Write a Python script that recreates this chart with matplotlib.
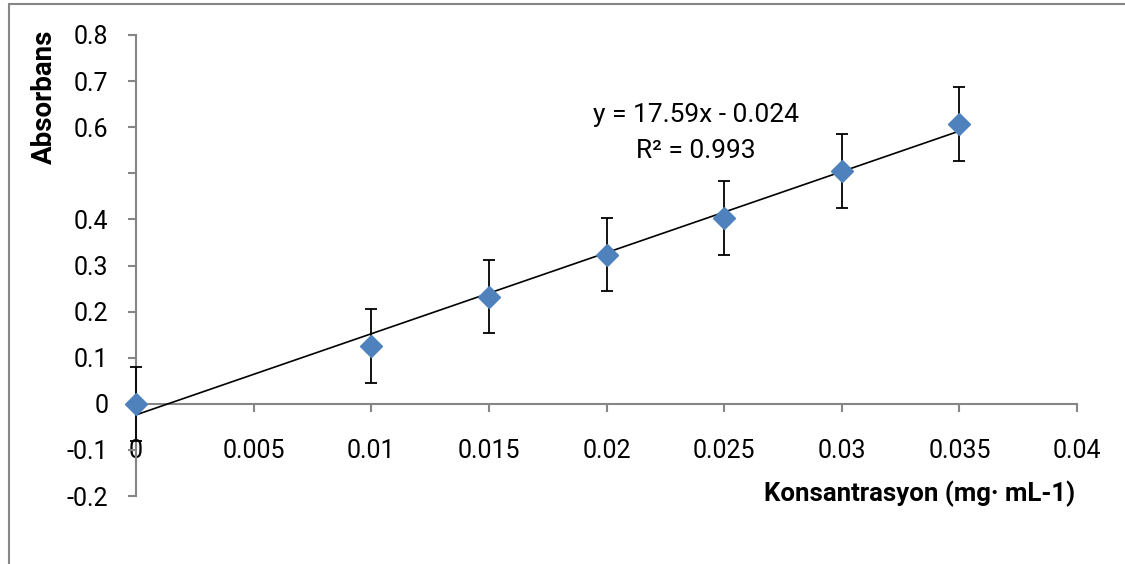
import matplotlib
matplotlib.use("Agg")
import matplotlib.pyplot as plt
from matplotlib.patches import Rectangle
import numpy as np

# Data
conc = [0.0, 0.01, 0.015, 0.02, 0.025, 0.03, 0.035]
absorb = [0.0, 0.126, 0.232, 0.323, 0.403, 0.505, 0.607]
err = [0.08, 0.08, 0.079, 0.079, 0.08, 0.08, 0.08]
slope = 17.59
intercept = -0.024
xticks = [0, 0.005, 0.01, 0.015, 0.02, 0.025, 0.03, 0.035, 0.04]
xticklabels = ["0", "0.005", "0.01", "0.015", "0.02", "0.025", "0.03", "0.035", "0.04"]
yticks = [-0.2, -0.1, 0, 0.1, 0.2, 0.3, 0.4, 0.5, 0.6, 0.7, 0.8]
yticklabels = ["-0.2", "-0.1", "0", "0.1", "0.2", "0.3", "0.4", "", "0.6", "0.7", "0.8"]

plt.rcParams['font.family'] = ['Roboto', 'DejaVu Sans']
W, H = 1125, 564
fig = plt.figure(figsize=(W / 100, H / 100), dpi=100)
ax = fig.add_axes([136 / W, (H - 496) / H, 941 / W, 461 / H])

gray = '#868686'
# Outer chart frame
fig.patches.append(Rectangle((9 / W, -0.2), 1.5, (H - 4) / H + 0.2, transform=fig.transFigure,
                             fill=False, edgecolor=gray, linewidth=1.5, zorder=0))

# trendline
xl = np.array([conc[0], conc[-1]])
ax.plot(xl, slope * xl + intercept, color='black', lw=1.2, zorder=3)

ax.errorbar(conc, absorb, yerr=err, fmt='none', ecolor='black', elinewidth=1.3,
            capsize=4.5, capthick=1.3, zorder=4, clip_on=False)
ax.plot(conc, absorb, linestyle='none', marker='D', markersize=11.5, color='#4F81BD',
        markeredgecolor='#4F81BD', zorder=5, clip_on=False)

ax.set_xlim(0, 0.04)
ax.set_ylim(-0.2, 0.8)
for s in ['top', 'right']:
    ax.spines[s].set_visible(False)
ax.spines['bottom'].set_position(('data', 0))
ax.spines['left'].set_color(gray)
ax.spines['bottom'].set_color(gray)
ax.spines['left'].set_linewidth(1.5)
ax.spines['bottom'].set_linewidth(1.5)

ax.set_xticks(xticks)
ax.set_xticklabels(xticklabels)
ax.set_yticks(yticks)
ax.set_yticklabels(yticklabels)
ax.tick_params(axis='x', direction='out', length=6, width=1.5, color=gray, pad=19,
               labelsize=18, labelcolor='black')
ax.tick_params(axis='y', direction='out', length=6, width=1.5, color=gray, pad=14,
               labelsize=18, labelcolor='black')

bold_fam = ['Roboto', 'DejaVu Sans']
fig.text(44 / W, 1 - 97 / H, 'Absorbans', rotation=90, ha='center', va='center',
         fontsize=20, fontweight='bold', family=bold_fam)
fig.text(920 / W, 1 - 494 / H, 'Konsantrasyon (mg· mL-1)', ha='center', va='center',
         fontsize=18.5, fontweight='bold', family=bold_fam)

ax.text(0.0238, 0.627, 'y = 17.59x - 0.024', ha='center', va='center', fontsize=19)
ax.text(0.0238, 0.548, 'R² = 0.993', ha='center', va='center', fontsize=19)

fig.savefig('out.png', dpi=100)
